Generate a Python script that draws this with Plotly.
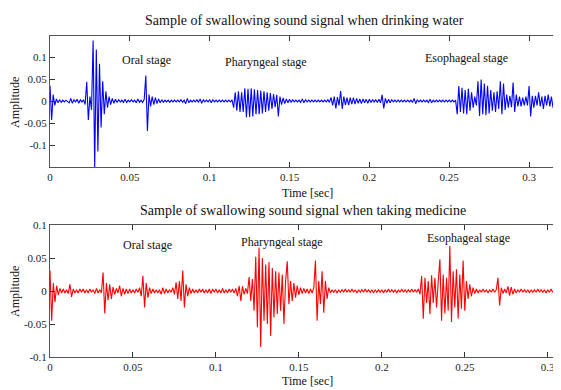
import numpy as np
import plotly.graph_objects as go

SAMPLE_STEP = 0.001  # seconds between samples

# Amplitudes in units of 1e-3 (drinking water)
water_milli = [
    35, -43, 15, -10, 5, -4, 3, -3, 2, -2, 2, -2, -4, 6, -5, 3, -2, 4, -5, 3,
    -2, 3, -8, 44, -43, 10, -20, 138, -150, 117, -115, 85, -60, 45, -30, 22, -15, 10, -8, 6,
    -5, 4, -3, 3, -2, 2, -3, 4, -3, 2, -2, 3, -2, 2, -4, 5, -3, 2, -3, 4,
    58, -68, 15, -12, 10, -8, 8, -6, 5, -4, 3, -3, 2, -2, 2, -3, 2, -2, 2, -2,
    2, -2, 3, -3, 2, -6, 6, -4, 2, -2, 2, -2, 3, -3, 5, -5, 3, -2, 2, -2,
    3, -4, 3, -2, 2, -2, 2, -2, 2, -2, 2, -2, 2, -2, 3, -15, 20, -22, 22, -25,
    20, -25, 29, -37, 28, -36, 29, -35, 27, -30, 25, -30, 24, -28, 22, -25, 20, -22, 18, -18,
    16, -14, 14, -35, 10, -8, 7, -6, 5, -4, 4, -3, 3, -2, 2, -2, 2, -3, 5, -4,
    3, -2, 2, -2, 2, -2, 2, -2, 2, -2, 2, -2, 2, -2, 3, -3, 8, -10, 10, -17,
    9, -10, 23, -18, 10, -9, 8, -9, 8, -7, 8, -7, 6, -5, 5, -6, 5, -4, 4, -5,
    4, -3, 3, -2, 3, -3, 4, -4, 14, -17, 6, -5, 4, -4, 3, -2, 2, -2, 2, -2,
    2, -2, 2, -2, 2, -2, 2, -3, 6, -6, 3, -2, 2, -2, 2, -2, 2, -3, 4, -4,
    2, -2, 2, -2, 2, -2, 2, -2, 2, -2, 2, -2, 2, -2, 2, -30, 34, -25, 30, -28,
    25, -30, 28, -22, 20, -15, 10, -10, 45, -34, 49, -30, 40, -32, 35, -28, 25, -22, 20, -25,
    22, -18, 45, -30, 40, -20, 15, -15, 12, -14, 42, -25, 15, -12, 10, -12, 8, -10, 10, -10,
    34, -35, 12, -15, 12, -10, 20, -12, 10, -18, 12, -10, 15, -12, 10, -15, 12, -10, 18, -12,
    8,
]

# Amplitudes in units of 1e-3 (taking medicine)
medicine_milli = [
    31, -45, 12, -17, 8, -6, 4, -3, 3, -3, 2, -4, 10, -9, 3, -3, 2, -3, 3, -2,
    3, -3, 2, -3, 3, -2, 2, -4, 4, -3, 2, -3, 28, -34, 12, -14, 10, -12, 6, -5,
    4, -3, 8, -8, 4, -5, 3, -4, 3, -3, 2, -3, 3, -2, 5, -8, 23, -25, 12, -10,
    5, -4, 3, -3, 2, -3, 2, -5, 5, -4, 3, -3, 2, -2, 5, -5, 13, -12, 15, -15,
    31, -25, 10, -8, 5, -4, 3, -3, 2, -3, 3, -2, 3, -3, 2, -3, 3, -4, 3, -2,
    3, -3, 2, -3, 4, -3, 2, -3, 3, -2, 3, -3, 4, -8, 8, -15, 7, -5, 4, -4,
    21, -15, 18, -30, 52, -55, 66, -85, 50, -45, 40, -50, 44, -68, 35, -40, 30, -35, 28, -30,
    25, -50, 15, 45, -20, 15, -15, 12, -10, 8, -6, 5, -4, 4, -3, 3, -4, 3, -3, 5,
    46, -45, 15, -20, 30, -33, 15, -12, 5, -3, 2, -2, 2, -3, 2, -2, 2, -2, 3, -2,
    2, -2, 3, -2, 2, -3, 2, -2, 2, -2, 3, -2, 2, -2, 2, -3, 2, -2, 2, -2,
    2, -3, 2, -2, 3, -2, 2, -2, 2, -3, 2, -2, 3, -2, 2, -2, 2, -2, 3, -2,
    2, -2, 3, -5, 23, -42, 20, -18, 15, -35, 24, -18, 20, -25, 14, 48, -45, 25, -34, 20,
    -30, 68, -47, 30, -25, 33, -42, 25, -27, 46, -30, 15, -12, 10, -8, 5, -4, 3, -3, 2,
    -2, 3, -2, 2, -3, 2, -2, 3, -2, 2, 20, -22, 5, -4, 3, -3, 7, -7, 6, -5,
    3, -3, 2, -2, 3, -2, 2, -2, 2, -3, 2, -2, 2, -2, 3, -2, 2, -2, 2, -3,
    2, -2, 3, -2, 2, -2, 2, -3, 2,
]

titles = ["Sample of swallowing sound signal when drinking water",
          "Sample of swallowing sound signal when taking medicine"]
stage_labels = ["Oral stage", "Pharyngeal stage", "Esophageal stage"]
x_tick_vals = [0, 0.05, 0.1, 0.15, 0.2, 0.25, 0.3]
x_tick_text = ["0", "0.05", "0.1", "0.15", "0.2", "0.25", "0.3"]
y_tick_vals = [-0.1, -0.05, 0, 0.05, 0.1]
y_tick_text = ["-0.1", "-0.05", "0", "0.05", "0.1"]

FONT = "Liberation Serif"
OFF = 8            # default page body margin
PAGE_W, PAGE_H = 561, 390
W, H = PAGE_W, PAGE_H - OFF   # figure runs 8px past the right edge (clipped, like the reference)
LEFT = 50 - OFF    # left edge of plot area in figure pixels
RIGHT = OFF        # plot area ends exactly at the window's right edge

water = np.array(water_milli) / 1000.0
medicine = np.array(medicine_milli) / 1000.0
t_water = np.arange(len(water)) * SAMPLE_STEP
t_med = np.arange(len(medicine)) * SAMPLE_STEP

fig = go.Figure()
fig.add_trace(go.Scatter(x=t_water, y=water, mode="lines",
                         line=dict(color="#0000FF", width=1.1),
                         xaxis="x", yaxis="y", showlegend=False, hoverinfo="skip"))
fig.add_trace(go.Scatter(x=t_med, y=medicine, mode="lines",
                         line=dict(color="#FF0000", width=1.1),
                         xaxis="x2", yaxis="y2", showlegend=False, hoverinfo="skip"))

def ydom(top_page, bot_page):
    top, bot = top_page - OFF, bot_page - OFF
    return [(H - bot) / H, (H - top) / H]

axis_common = dict(showgrid=False, zeroline=False, ticks="inside", ticklen=5,
                   tickcolor="#333333", linecolor="#555555", linewidth=1,
                   showline=True, tickfont=dict(family=FONT, size=11, color="#222222"))

fig.update_layout(
    width=W, height=H,
    margin=dict(l=LEFT, r=RIGHT, t=0, b=0, autoexpand=False),
    paper_bgcolor="white", plot_bgcolor="white",
    xaxis=dict(domain=[0, 1], range=[0, 0.32], anchor="y", mirror="ticks",
               tickvals=x_tick_vals, ticktext=x_tick_text, **axis_common),
    yaxis=dict(domain=ydom(36, 167), range=[-0.15, 0.148], anchor="x", mirror=False,
               tickvals=y_tick_vals, ticktext=y_tick_text, **axis_common),
    xaxis2=dict(domain=[0, 1], range=[0, 0.308], anchor="y2", mirror="ticks",
                tickvals=x_tick_vals, ticktext=x_tick_text, **axis_common),
    yaxis2=dict(domain=ydom(225, 357), range=[-0.1, 0.1], anchor="x2", mirror=False,
                tickvals=y_tick_vals, ticktext=y_tick_text, **axis_common),
)

def px_ann(text, x_page, y_page, size, angle=0):
    xf, yf = x_page - OFF, y_page - OFF
    fig.add_annotation(text=text, xref="paper", yref="paper",
                       x=(xf - LEFT) / (W - LEFT - RIGHT), y=(H - yf) / H,
                       showarrow=False, textangle=angle,
                       xanchor="center", yanchor="middle",
                       font=dict(family=FONT, size=size, color="#111111"))

px_ann(titles[0], 304, 20, 14)
px_ann(titles[1], 303, 210, 14)
px_ann("Time [sec]", 307, 193, 12)
px_ann("Time [sec]", 307, 381, 12)
px_ann("Amplitude", 15, 103, 12, angle=-90)
px_ann("Amplitude", 15, 292, 12, angle=-90)

top_pos = [(146, 60), (266, 62), (466, 58)]
bot_pos = [(147, 245), (282, 242), (468, 238)]
for lab, (xp, yp) in zip(stage_labels, top_pos):
    px_ann(lab, xp, yp, 12)
for lab, (xp, yp) in zip(stage_labels, bot_pos):
    px_ann(lab, xp, yp, 12)

fig.write_html("out.html")
